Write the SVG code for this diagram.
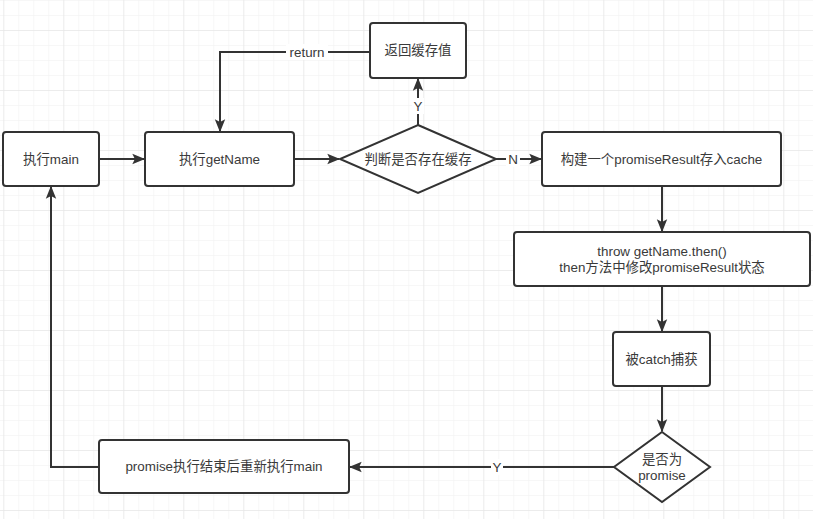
<svg xmlns="http://www.w3.org/2000/svg" width="813" height="519" viewBox="0 0 813 519">
<defs>
<pattern id="minor" x="3.3" y="0" width="15" height="15" patternUnits="userSpaceOnUse">
<path d="M0 0H15M0 0V15" fill="none" stroke="#efefef" stroke-width="1"/>
</pattern>
<pattern id="major" x="3.3" y="30" width="60" height="60" patternUnits="userSpaceOnUse">
<path d="M0 0H60M0 0V60" fill="none" stroke="#e2e2e2" stroke-width="1"/>
</pattern>
<marker id="arr" viewBox="0 0 10 10" refX="9" refY="5" markerWidth="6.5" markerHeight="6.5" orient="auto" markerUnits="strokeWidth">
<path d="M0 1L10 5L0 9L2 5Z" fill="#333"/>
</marker>
</defs>
<style>
.box{fill:#fff;stroke:#333;stroke-width:2}
.t{font-family:"Liberation Sans","Noto Sans CJK SC",sans-serif;font-size:13.4px;fill:#3a3a3a;text-anchor:middle;dominant-baseline:central}
.c{fill:none;stroke:#333;stroke-width:2}
.lbl{fill:#fff}
</style>
<rect width="813" height="519" fill="#fff"/>
<rect width="813" height="519" fill="url(#minor)"/>
<rect width="813" height="519" fill="url(#major)"/>
<g id="connectors">
<path class="c" d="M99 159H144" marker-end="url(#arr)"/>
<path class="c" d="M294 159H339" marker-end="url(#arr)"/>
<path class="c" d="M370 52H220V131" marker-end="url(#arr)"/>
<rect class="lbl" x="286" y="44" width="42" height="16"/>
<text class="t" x="307" y="52">return</text>
<path class="c" d="M418 125V79" marker-end="url(#arr)"/>
<rect class="lbl" x="412" y="98" width="12" height="16"/>
<text class="t" x="418" y="106">Y</text>
<path class="c" d="M496 159H541" marker-end="url(#arr)"/>
<rect class="lbl" x="506" y="151" width="14" height="16"/>
<text class="t" x="513" y="159">N</text>
<path class="c" d="M662 186V231" marker-end="url(#arr)"/>
<path class="c" d="M662 286V331" marker-end="url(#arr)"/>
<path class="c" d="M662 386V431" marker-end="url(#arr)"/>
<path class="c" d="M614 467H350" marker-end="url(#arr)"/>
<rect class="lbl" x="491" y="459" width="12" height="16"/>
<text class="t" x="497" y="467">Y</text>
<path class="c" d="M99 467H51V187" marker-end="url(#arr)"/>
</g>
<g id="main"><rect class="box" x="3" y="132" width="96" height="54" rx="3"/><text class="t" x="51" y="159">执行main</text></g>
<g id="getName"><rect class="box" x="145" y="132" width="149" height="54" rx="3"/><text class="t" x="219.5" y="159">执行getName</text></g>
<g id="returnCache"><rect class="box" x="370" y="23" width="96" height="55" rx="3"/><text class="t" x="418" y="50.5">返回缓存值</text></g>
<g id="checkCache"><path class="box" d="M418 125L496 159L418 193L340 159Z"/><text class="t" x="418" y="159">判断是否存在缓存</text></g>
<g id="buildPromise"><rect class="box" x="542" y="132" width="239" height="54" rx="3"/><text class="t" x="661.5" y="159">构建一个promiseResult存入cache</text></g>
<g id="throwThen"><rect class="box" x="514" y="232" width="296" height="54" rx="3"/><text class="t" x="662" y="251">throw getName.then()</text><text class="t" x="662" y="267">then方法中修改promiseResult状态</text></g>
<g id="caught"><rect class="box" x="613" y="332" width="97" height="54" rx="3"/><text class="t" x="661.5" y="359">被catch捕获</text></g>
<g id="isPromise"><path class="box" d="M662 432L710 467L662 502L614 467Z"/><text class="t" x="662" y="459">是否为</text><text class="t" x="662" y="475">promise</text></g>
<g id="rerun"><rect class="box" x="99" y="440" width="250" height="53" rx="3"/><text class="t" x="224" y="466.5">promise执行结束后重新执行main</text></g>
</svg>
